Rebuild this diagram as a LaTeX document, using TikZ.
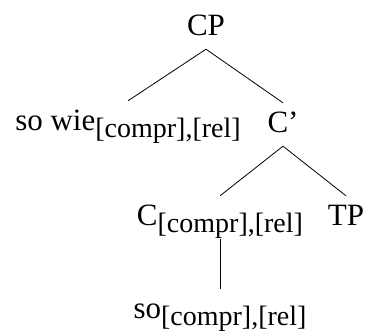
\documentclass[tikz,border=0pt]{standalone}
\usepackage{fontspec}
\setmainfont{Liberation Serif}
\newcommand{\sbx}[1]{\raisebox{-7pt}{\fontsize{28}{28}\selectfont #1}}
\begin{document}
\begin{tikzpicture}[x=1pt,y=-1pt,
  lab/.style={inner xsep=0pt, inner ysep=9pt, text height=20pt, text depth=5pt,
              font=\fontsize{31}{31}\selectfont, anchor=base},
  edge/.style={line width=0.8pt}]
\useasboundingbox (0,0) rectangle (366,335);
\node[lab] (cp) at (206,35) {CP};
\node[lab] (sw) at (128,130) {so wie\sbx{[compr],[rel]}};
\node[lab] (cb) at (283,132) {C’};
\node[lab] (c)  at (220,225) {C\sbx{[compr],[rel]}};
\node[lab] (tp) at (346,225) {TP};
\node[lab] (so) at (220,318) {so\sbx{[compr],[rel]}};
\draw[edge] (cp.south) -- (sw.north);
\draw[edge] (cp.south) -- (cb.north);
\draw[edge] (cb.south) -- (c.north);
\draw[edge] (cb.south) -- (tp.north);
\draw[edge] (c.south) -- (so.north);
\end{tikzpicture}
\end{document}
